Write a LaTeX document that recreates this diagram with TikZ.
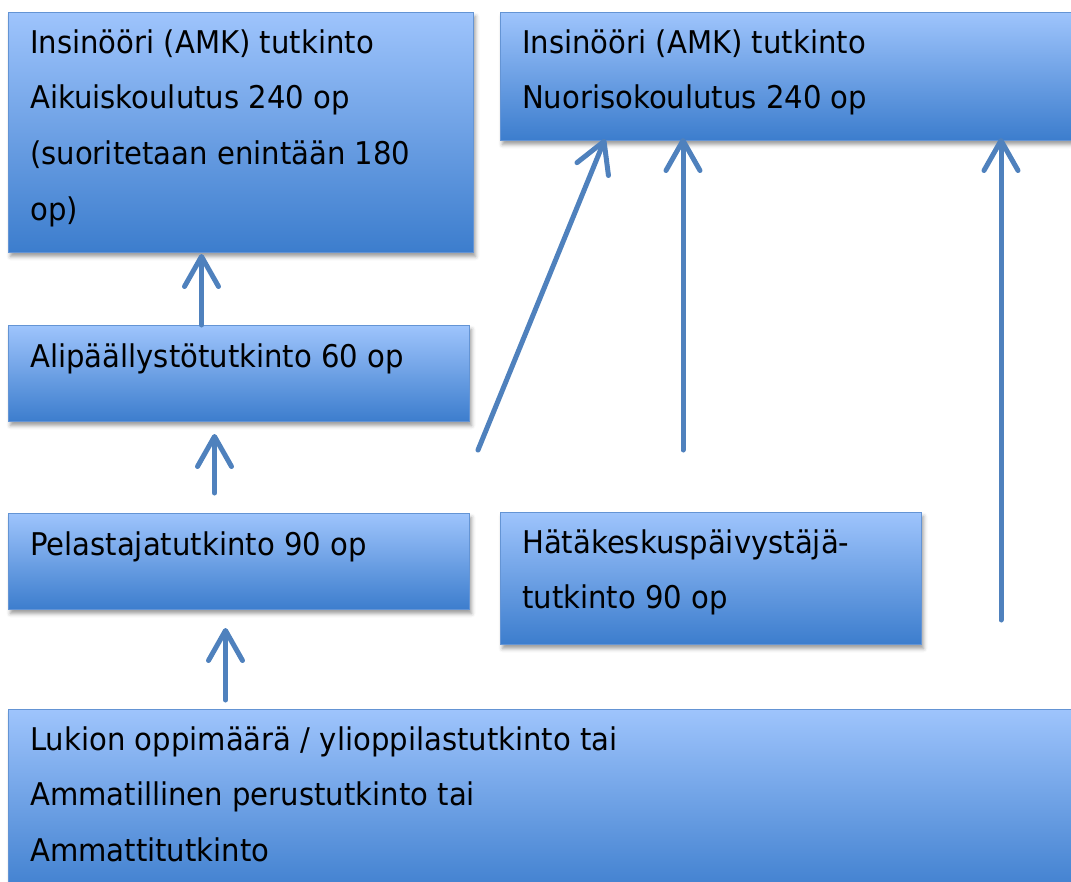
\documentclass[tikz,border=0pt]{standalone}
\usepackage{fontspec}
\setmainfont{DejaVu Sans}[FakeStretch=0.93]
\usetikzlibrary{arrows.meta,shadows.blur}
\definecolor{boxtop}{RGB}{158,196,252}
\definecolor{boxbot}{RGB}{60,125,205}
\definecolor{boxline}{RGB}{100,148,212}
\definecolor{arrcol}{RGB}{79,129,189}
\begin{document}
\begin{tikzpicture}[x=1pt,y=-1pt,
  box/.style={draw=boxline, line width=1pt, top color=boxtop, bottom color=boxbot,
    anchor=north west, inner sep=0pt,
    blur shadow={shadow xshift=2pt, shadow yshift=-4pt, shadow blur radius=4pt, shadow opacity=40}},
  txt/.style={anchor=base west, inner sep=0pt, font=\fontsize{31.3}{56}\selectfont, text=black},
  arr/.style={draw=arrcol, line width=5pt, line cap=round,
    -{Straight Barb[length=30pt, width=34pt, line cap=round, line join=round]}}]
\useasboundingbox (0,0) rectangle (1071,881);
\begin{scope}
\clip (0,0) rectangle (1071,881);
% boxes
\node[box, minimum width=465pt, minimum height=240pt] (A) at (8,12) {};
\node[box, minimum width=590pt, minimum height=128pt] (B) at (500,12) {};
\node[box, minimum width=461pt, minimum height=96pt] (C) at (8,325) {};
\node[box, minimum width=461pt, minimum height=96pt] (D) at (8,513) {};
\node[box, minimum width=421pt, minimum height=132pt] (E) at (500,512) {};
\node[box, minimum width=1090pt, minimum height=190pt] (F) at (8,709) {};
% texts
\node[txt] (a1) at (30,53) {Insinööri (AMK) tutkinto};
\node[txt] (a2) at (30,108.7) {Aikuiskoulutus 240 op};
\node[txt] (a3) at (30,164.4) {(suoritetaan enintään 180};
\node[txt] (a4) at (30,220) {op)};
\node[txt] (b1) at (522,53) {Insinööri (AMK) tutkinto};
\node[txt] (b2) at (522,108.7) {Nuorisokoulutus 240 op};
\node[txt] (c1) at (30,367) {Alipäällystötutkinto 60 op};
\node[txt] (d1) at (30,555) {Pelastajatutkinto 90 op};
\node[txt] (e1) at (522,553) {Hätäkeskuspäivystäjä-};
\node[txt] (e2) at (522,608.7) {tutkinto 90 op};
\node[txt] (f1) at (30,750) {Lukion oppimäärä / ylioppilastutkinto tai};
\node[txt] (f2) at (30,805.7) {Ammatillinen perustutkinto tai};
\node[txt] (f3) at (30,861.4) {Ammattitutkinto};
% connectors
\coordinate (s1) at (478,450);
\coordinate (s2) at (683,450);
\coordinate (s3) at (1001,620);
\draw[arr] ([xshift=-37.5pt]C.north) -- ([xshift=-39.5pt,yshift=-1pt]A.south);
\draw[arr] ([xshift=-24.5pt,yshift=20pt]D.north) -- ([xshift=-24.5pt,yshift=-12pt]C.south);
\draw[arr] ([xshift=-328pt,yshift=9pt]F.north) -- ([xshift=-13.5pt,yshift=-18pt]D.south);
\draw[arr] (s1) -- ([xshift=105pt,yshift=2pt]B.south west);
\draw[arr] (s2) -- ([xshift=183pt,yshift=3pt]B.south west);
\draw[arr] (s3) -- ([xshift=501pt,yshift=3pt]B.south west);
\end{scope}
\end{tikzpicture}
\end{document}
